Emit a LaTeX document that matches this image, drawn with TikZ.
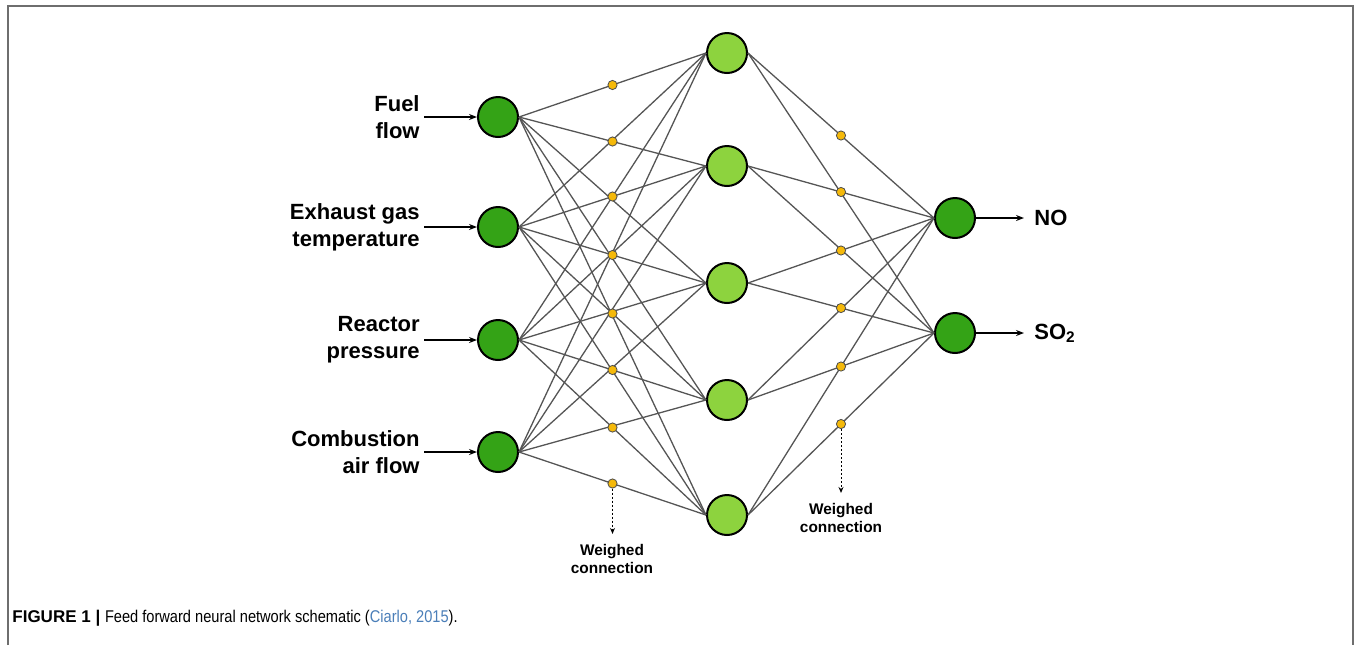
\documentclass[tikz,border=0pt]{standalone}
\usepackage{fontspec}
\setmainfont{Liberation Sans}
\newfontfamily\capfont[FakeStretch=0.86]{Liberation Sans}
\usetikzlibrary{arrows.meta}
\definecolor{ingreen}{HTML}{34A316}
\definecolor{hidgreen}{HTML}{8DD33E}
\definecolor{wdot}{HTML}{F5B90A}
\definecolor{citeblue}{HTML}{4A7EB8}
\definecolor{framegray}{HTML}{6E6E6E}
\definecolor{edgegray}{HTML}{555555}

\begin{document}
\begin{tikzpicture}[x=0.5pt,y=-0.5pt,
  neuron/.style={circle,draw=black,line width=1pt,minimum size=20pt,inner sep=0pt},
  wdotstyle/.style={circle,draw=black!70,fill=wdot,line width=0.4pt,minimum size=4.6pt,inner sep=0pt},
  link/.style={draw=edgegray,line width=0.65pt},
  feed/.style={-{Stealth[length=4pt,width=3pt]},line width=0.75pt},
  pointer/.style={-{Stealth[length=3pt,width=2.5pt]},line width=0.5pt,dash pattern=on 1.2pt off 0.8pt},
  inlabel/.style={font=\bfseries\fontsize{11}{13.5}\selectfont,align=right,inner sep=2pt},
  wlabel/.style={font=\bfseries\fontsize{7.7}{9}\selectfont,align=center,inner sep=1pt}]
\useasboundingbox (0,0) rectangle (1356,645);
% frame round the figure
\draw[framegray,line width=1pt] (8,645) -- (8,6) -- (1353,6) -- (1353,645);

% layers
\foreach \i/\y in {1/117,2/227,3/340,4/452}
  \node[neuron,fill=ingreen] (in\i) at (498,\y) {};
\foreach \j/\y in {1/53,2/166,3/283,4/400,5/515}
  \node[neuron,fill=hidgreen] (hid\j) at (727,\y) {};
\node[neuron,fill=ingreen] (out1) at (955,218) {};
\node[neuron,fill=ingreen] (out2) at (955,333) {};

% connections
\foreach \i in {1,...,4}
  \foreach \j in {1,...,5}
    \draw[link] (in\i.east) -- (hid\j.west);
\foreach \j in {1,...,5}
  \foreach \k in {1,2}
    \draw[link] (hid\j.east) -- (out\k.west);

% weights
\foreach \i/\j/\n in {1/1/1,1/2/2,2/2/3,2/3/4,2/4/5,3/4/6,3/5/7,4/5/8}
  \path (in\i.east) -- (hid\j.west) node[wdotstyle,midway] (wa\n) {};
\foreach \j/\k/\n in {1/1/1,2/1/2,3/1/3,3/2/4,4/2/5,5/2/6}
  \path (hid\j.east) -- (out\k.west) node[wdotstyle,midway] (wb\n) {};

% inputs
\node[inlabel,anchor=east] (lab1) at (424,117) {Fuel\\flow};
\node[inlabel,anchor=east] (lab2) at (424,227) {Exhaust gas\\temperature};
\node[inlabel,anchor=east] (lab3) at (424,340) {Reactor\\pressure};
\node[inlabel,anchor=east] (lab4) at (424,452) {Combustion\\air flow};
\foreach \i in {1,...,4}
  \draw[feed] (lab\i.east) -- (in\i.west);

% outputs
\node[inlabel,anchor=west] (lab5) at (1030,218) {NO};
\node[inlabel,anchor=west] (lab6) at (1030,333) {SO\textsubscript{2}};
\draw[feed,shorten >=3pt] (out1.east) -- (lab5.west);
\draw[feed,shorten >=3pt] (out2.east) -- (lab6.west);

% weight notes
\node[wlabel] (note1) at (612,559) {Weighed\\connection};
\node[wlabel] (note2) at (841,518) {Weighed\\connection};
\draw[pointer,shorten >=4pt] (wa8) -- (wa8 |- note1.north);
\draw[pointer,shorten >=4pt] (wb6) -- (wb6 |- note2.north);

% caption
\node[anchor=base west,inner sep=0pt,font=\fontsize{8.5}{10}\selectfont] (cap) at (12,622)
  {{\bfseries FIGURE 1 |} {\capfont Feed forward neural network schematic (\textcolor{citeblue}{Ciarlo, 2015}).}};
\end{tikzpicture}
\end{document}
